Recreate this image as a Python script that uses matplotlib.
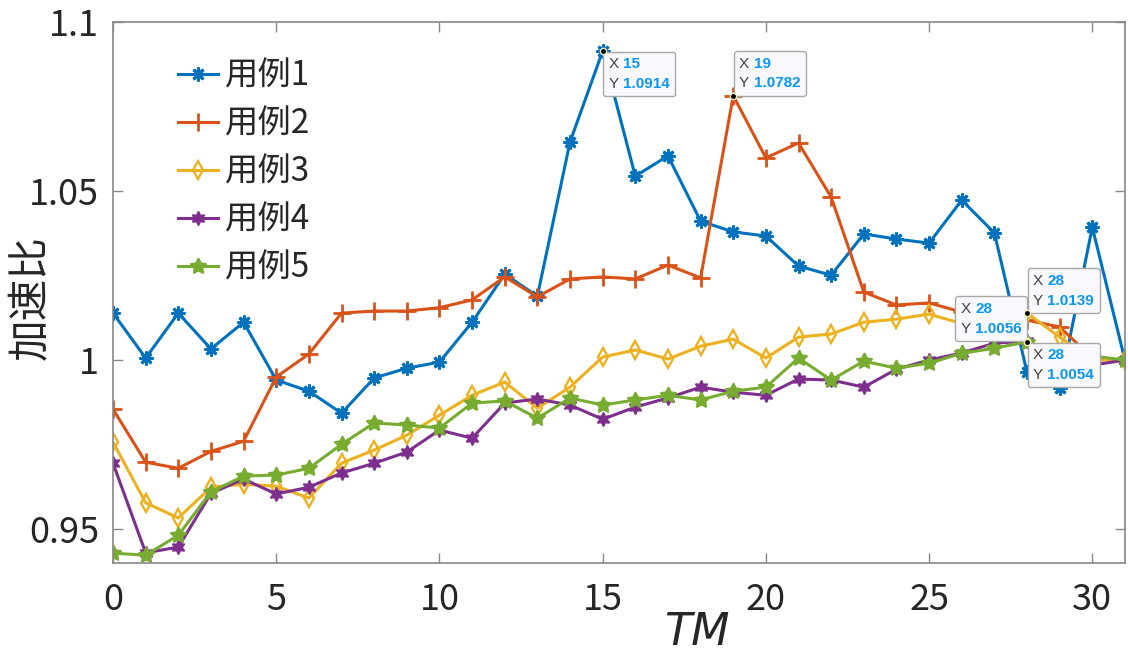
import numpy as np
import matplotlib
matplotlib.use('Agg')
import matplotlib.pyplot as plt
from matplotlib.offsetbox import TextArea, HPacker, VPacker, AnnotationBbox

plt.rcParams['font.family'] = ['Noto Sans CJK SC', 'DejaVu Sans']

tm = np.arange(32)

case1 = [1.0139, 1.0006, 1.0139, 1.0033, 1.0112, 0.9941, 0.9908, 0.9843, 0.9947, 0.9976,
         0.9994, 1.0112, 1.0254, 1.0189, 1.0645, 1.0914, 1.0544, 1.0604, 1.0411, 1.0379,
         1.0367, 1.0278, 1.0251, 1.0373, 1.0358, 1.0346, 1.0473, 1.0376, 0.9964, 0.9917,
         1.0393, 1.0000]
case2 = [0.9855, 0.9698, 0.9680, 0.9730, 0.9760, 0.9950, 1.0018, 1.0139, 1.0145, 1.0145,
         1.0155, 1.0178, 1.0246, 1.0187, 1.0240, 1.0246, 1.0240, 1.0281, 1.0243, 1.0782,
         1.0598, 1.0642, 1.0482, 1.0201, 1.0163, 1.0169, 1.0142, 1.0130, 1.0118, 1.0098,
         1.0006, 1.0000]
case3 = [0.9757, 0.9578, 0.9533, 0.9624, 0.9633, 0.9627, 0.9592, 0.9695, 0.9734, 0.9778,
         0.9837, 0.9896, 0.9935, 0.9858, 0.9920, 1.0009, 1.0030, 1.0003, 1.0041, 1.0062,
         1.0006, 1.0068, 1.0077, 1.0112, 1.0121, 1.0136, 1.0108, 1.0110, 1.0139, 1.0068,
         1.0000, 1.0000]
case4 = [0.9695, 0.9430, 0.9447, 0.9606, 0.9648, 0.9604, 0.9624, 0.9666, 0.9695, 0.9728,
         0.9793, 0.9769, 0.9873, 0.9885, 0.9867, 0.9825, 0.9861, 0.9888, 0.9920, 0.9905,
         0.9896, 0.9944, 0.9941, 0.9920, 0.9973, 1.0000, 1.0021, 1.0050, 1.0056, 1.0010,
         0.9985, 1.0000]
case5 = [0.9429, 0.9423, 0.9482, 0.9610, 0.9657, 0.9660, 0.9680, 0.9751, 0.9814, 0.9808,
         0.9799, 0.9873, 0.9879, 0.9828, 0.9888, 0.9867, 0.9882, 0.9896, 0.9882, 0.9908,
         0.9920, 1.0006, 0.9941, 0.9997, 0.9976, 0.9991, 1.0020, 1.0035, 1.0054, 1.0025,
         1.0012, 1.0000]

labels = ['用例1', '用例2', '用例3', '用例4', '用例5']

# data tips: (x, y)
tip_x = [15, 19, 28, 28, 28]
tip_y = [1.0914, 1.0782, 1.0139, 1.0056, 1.0054]

fig = plt.figure(figsize=(11.28, 6.55), dpi=100)
ax = fig.add_axes([0.1002, 0.1405, 0.8971, 0.8260])

axcol = '#888888'
txtcol = '#262626'

styles = [
    dict(color='#0072BD', marker=(8, 2, 0), ms=10, mew=2.0, mfc='none'),
    dict(color='#D95319', marker='+', ms=13, mew=2.0),
    dict(color='#EDB120', marker='d', ms=9, mew=1.7, mfc='none'),
    dict(color='#7E2F8E', marker=(6, 1, 0), ms=10, mew=1.2),
    dict(color='#77AC30', marker=(5, 1, 0), ms=12, mew=1.2),
]
for y, lab, st in zip([case1, case2, case3, case4, case5], labels, styles):
    ax.plot(tm, y, lw=2.2, label=lab, **st)

ax.set_xlim(0, 31)
ax.set_ylim(0.94, 1.1)
ax.set_xticks([0, 5, 10, 15, 20, 25, 30])
ax.set_yticks([0.95, 1.0, 1.05, 1.1])
ax.set_yticklabels(['0.95', '1', '1.05', '1.1'])
ax.tick_params(direction='in', length=7, width=1, color=axcol, top=True, right=True,
               labelsize=26, labelcolor=txtcol)
ax.tick_params(axis='x', pad=14)
ax.tick_params(axis='y', pad=10)
for s in ax.spines.values():
    s.set_color(axcol)
    s.set_linewidth(1.2)

ax.set_ylabel('加速比', fontsize=30, color=txtcol)
ax.yaxis.set_label_coords(-0.060, 0.49)
ax.set_xlabel('TM', fontsize=32, color=txtcol, style='italic', family=['DejaVu Sans'])
ax.xaxis.set_label_coords(0.577, -0.088)

leg = ax.legend(loc='upper left', bbox_to_anchor=(178 / 1128, 1 - 59 / 655),
                bbox_transform=fig.transFigure, frameon=False, fontsize=24,
                handlelength=1.2, handletextpad=0.2, labelspacing=0.39,
                borderpad=0, borderaxespad=0)
for t in leg.get_texts():
    t.set_color(txtcol)

# data tip boxes; offsets include the 4 pt box padding
tip_fs = 11
tip_place = [((4.5, -4.5), (0, 1)), ((4.5, 4), (0, 0)), ((4.5, 4), (0, 0)),
             ((-4, 4), (1, 0)), ((4.5, -4.5), (0, 1))]
ax.plot(tip_x, tip_y, 'o', color='k', ms=4.5, mec='#f3ecc0', mew=1.0, zorder=11)
for xv, yv, (off, align) in zip(tip_x, tip_y, tip_place):
    rows = []
    for name, val in (('X', '%d' % xv), ('Y', '%.4f' % yv)):
        rows.append(HPacker(children=[
            TextArea(name + ' ', textprops=dict(color='#404040', size=tip_fs,
                                                family='Liberation Sans')),
            TextArea(val, textprops=dict(color='#0a96f5', size=tip_fs, weight='bold',
                                         family='Liberation Sans'))],
            sep=0, pad=0, align='baseline'))
    box = VPacker(children=rows, sep=4, pad=0, align='left')
    ab = AnnotationBbox(box, (xv, yv), xybox=off, xycoords='data',
                        boxcoords='offset points', box_alignment=align,
                        frameon=True, fontsize=10,
                        bboxprops=dict(boxstyle='round,pad=0.4,rounding_size=0.2',
                                       fc='#f9f9fd', ec='#a8a8a8', lw=1.0))
    ab.set_zorder(10)
    ax.add_artist(ab)

fig.savefig('out.png', dpi=100)
